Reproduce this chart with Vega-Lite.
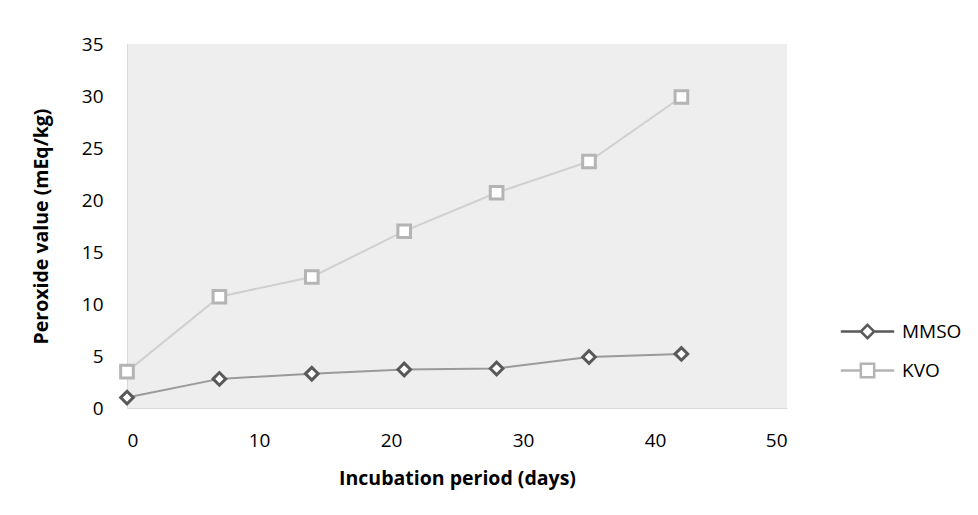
{
  "$schema": "https://vega.github.io/schema/vega-lite/v6.json",
  "width": 660,
  "height": 364,
  "autosize": {"type": "none"},
  "padding": {"left": 127, "top": 44, "right": 191, "bottom": 107},
  "background": "white",
  "config": {
    "font": "Open Sans",
    "view": {"fill": "#eeeeee", "stroke": null},
    "axis": {"labelFont": "Open Sans", "titleFont": "Open Sans", "labelColor": "#000000", "titleColor": "#000000", "labelFontSize": 19, "titleFontSize": 19.5, "titleFontWeight": "bold", "grid": false, "ticks": false, "domainColor": "#d9d9d9"},
    "legend": {"labelFont": "Open Sans", "labelFontSize": 19, "labelColor": "#000000"}
  },
  "data": {"values": [
    {"day": 0, "series": "MMSO", "pv": 1.0},
    {"day": 7, "series": "MMSO", "pv": 2.8},
    {"day": 14, "series": "MMSO", "pv": 3.3},
    {"day": 21, "series": "MMSO", "pv": 3.7},
    {"day": 28, "series": "MMSO", "pv": 3.8},
    {"day": 35, "series": "MMSO", "pv": 4.9},
    {"day": 42, "series": "MMSO", "pv": 5.2},
    {"day": 0, "series": "KVO", "pv": 3.5},
    {"day": 7, "series": "KVO", "pv": 10.7},
    {"day": 14, "series": "KVO", "pv": 12.6},
    {"day": 21, "series": "KVO", "pv": 17.0},
    {"day": 28, "series": "KVO", "pv": 20.7},
    {"day": 35, "series": "KVO", "pv": 23.7},
    {"day": 42, "series": "KVO", "pv": 29.9}
  ]},
  "encoding": {
    "x": {"field": "day", "type": "quantitative", "scale": {"domain": [0, 50], "nice": false},
      "axis": {"title": "Incubation period (days)", "values": [0, 10, 20, 30, 40, 50], "labelPadding": 23, "titlePadding": 19}},
    "y": {"field": "pv", "type": "quantitative", "scale": {"domain": [0, 35], "nice": false},
      "axis": {"title": "Peroxide value (mEq/kg)", "values": [0, 5, 10, 15, 20, 25, 30, 35], "labelPadding": 24, "titlePadding": 30, "domain": true}}
  },
  "layer": [
    {
      "mark": {"type": "line", "strokeWidth": 2},
      "encoding": {
        "color": {"field": "series", "type": "nominal", "scale": {"domain": ["MMSO", "KVO"], "range": ["#9a9a9a", "#d0d0d0"]}, "legend": null}
      }
    },
    {
      "mark": {"type": "point", "filled": false, "fill": "white", "fillOpacity": 1, "strokeWidth": 3, "size": 160, "opacity": 1},
      "encoding": {
        "stroke": {"field": "series", "type": "nominal", "scale": {"domain": ["MMSO", "KVO"], "range": ["#595959", "#b4b4b4"]}, "legend": null},
        "shape": {"field": "series", "type": "nominal", "scale": {"domain": ["MMSO", "KVO"], "range": ["diamond", "square"]}, "legend": null}
      }
    },
    {
      "mark": {"type": "point", "filled": false, "opacity": 0, "strokeWidth": 2.5, "size": 220},
      "encoding": {
        "stroke": {"field": "series", "type": "nominal", "scale": {"domain": ["MMSO", "KVO"], "range": ["#595959", "#b4b4b4"]},
          "legend": {"title": null, "orient": "none", "legendX": 731, "legendY": 278, "symbolOpacity": 1, "symbolSize": 220, "labelOffset": 25, "rowPadding": 14, "symbolStrokeWidth": 2.5}},
        "shape": {"field": "series", "type": "nominal", "scale": {"domain": ["MMSO", "KVO"], "range": ["M-3.6,0H-0.9M0,-0.9L0.9,0L0,0.9L-0.9,0ZM0.9,0H3.6", "M-3.6,0H-0.9M-0.9,-0.9H0.9V0.9H-0.9ZM0.9,0H3.6"]},
          "legend": {"title": null, "orient": "none", "legendX": 731, "legendY": 278, "symbolOpacity": 1, "symbolSize": 220, "labelOffset": 25, "rowPadding": 14, "symbolStrokeWidth": 2.5}}
      }
    }
  ],
  "resolve": {"scale": {"stroke": "independent", "shape": "independent"}}
}
